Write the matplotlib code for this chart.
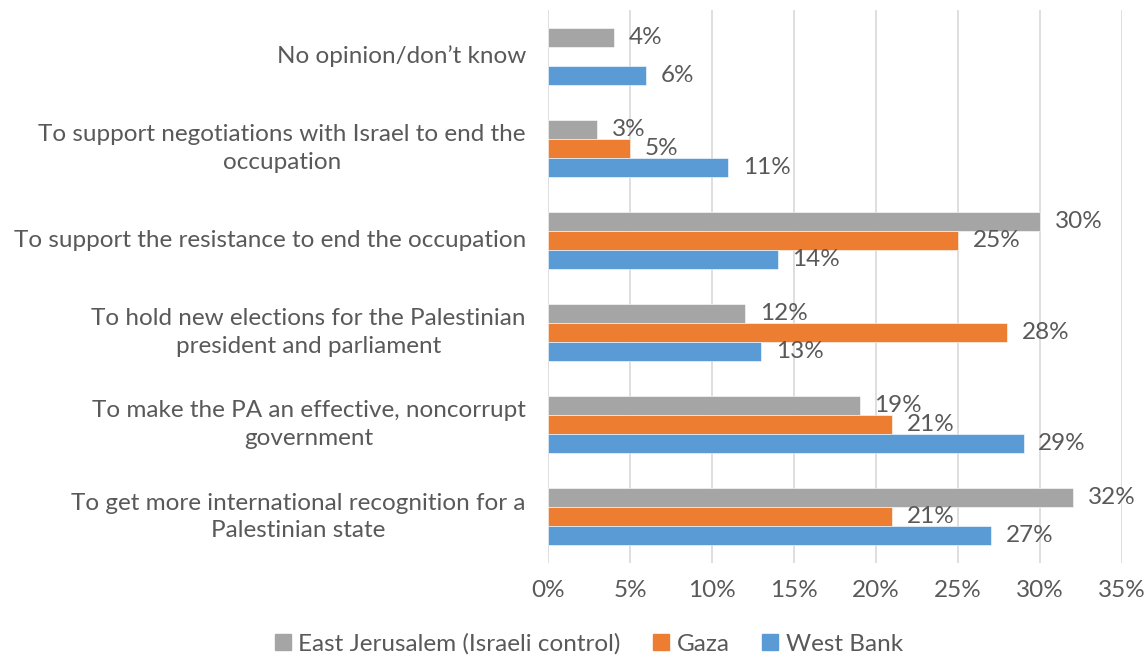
import matplotlib.pyplot as plt
from matplotlib.lines import Line2D
import numpy as np

plt.rcParams['font.family'] = ['Lato', 'DejaVu Sans']

categories = [
    "To get more international recognition for a\nPalestinian state",
    "To make the PA an effective, noncorrupt\ngovernment",
    "To hold new elections for the Palestinian\npresident and parliament",
    "To support the resistance to end the occupation",
    "To support negotiations with Israel to end the\noccupation",
    "No opinion/don\u2019t know",
]
east_jerusalem = [32, 19, 12, 30, 3, 4]
gaza = [21, 21, 28, 25, 5, None]
west_bank = [27, 29, 13, 14, 11, 6]

series = [
    ("East Jerusalem (Israeli control)", east_jerusalem, "#A5A5A5", 1),
    ("Gaza", gaza, "#ED7D31", 0),
    ("West Bank", west_bank, "#5B9BD5", -1),
]

txt = "#595959"
fs = 17.5
h = 0.206

fig = plt.figure(figsize=(11.47, 6.58), dpi=100)
ax = fig.add_axes([0.4778, 0.1444, 0.5004, 0.8404])

y = np.arange(len(categories))
for name, vals, col, off in series:
    for i, v in enumerate(vals):
        if v is None:
            continue
        ax.barh(y[i] + off * h, v, height=h, color=col, edgecolor="white", linewidth=0.4, zorder=2)
        ax.text(v + 0.9, y[i] + off * h, f"{v}%", va="center", ha="left",
                fontsize=fs, color=txt, zorder=3)

ax.set_xlim(0, 35)
ax.set_ylim(-0.5, len(categories) - 0.5)
ax.set_xticks(range(0, 36, 5))
ax.set_xticklabels([f"{t}%" for t in range(0, 36, 5)])
ax.set_yticks(y)
ax.set_yticklabels(categories, multialignment="center", linespacing=1.4, va="center")
ax.tick_params(axis="both", length=0, labelsize=fs, labelcolor=txt)
ax.tick_params(axis="x", pad=12)
ax.tick_params(axis="y", pad=16)
ax.grid(axis="x", color="#D9D9D9", linewidth=1.2, zorder=0)
for s in ax.spines.values():
    s.set_visible(False)

handles = [Line2D([0], [0], marker="s", linestyle="none", markersize=11,
                  markerfacecolor=col, markeredgecolor=col, label=name)
           for name, vals, col, off in series]
fig.legend(handles=handles, loc="center", bbox_to_anchor=(0.512, 0.021), ncol=3,
           frameon=False, fontsize=fs, labelcolor=txt, handletextpad=0.2,
           columnspacing=1.2, handlelength=0.9)

fig.savefig("out.png", dpi=100)
